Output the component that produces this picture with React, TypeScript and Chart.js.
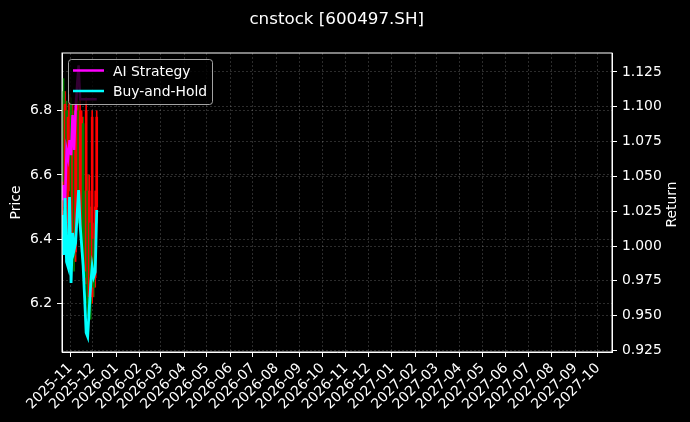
import { useEffect, useRef } from "react";
import { Chart, registerables } from "chart.js";

Chart.register(...registerables);

const title = "cnstock [600497.SH]";

// trading sessions shown (only the first ~6 weeks carry data)
const dates = [
  "2025-10-21", "2025-10-23", "2025-10-25", "2025-10-27", "2025-10-29", "2025-10-31",
  "2025-11-02", "2025-11-04", "2025-11-06", "2025-11-08", "2025-11-10", "2025-11-12",
  "2025-11-14", "2025-11-16", "2025-11-18", "2025-11-20", "2025-11-22", "2025-11-24",
  "2025-11-26", "2025-11-28", "2025-11-30", "2025-12-02", "2025-12-04", "2025-12-06",
];

const opens  = [6.42, 6.86, 6.55, 6.80, 6.45, 6.60, 6.82, 6.42, 6.78, 6.36, 6.50, 6.80, 6.48, 6.40, 6.76, 6.50, 6.30, 6.55, 6.22, 6.45, 6.22, 6.40, 6.28, 6.50];
const highs  = [6.84, 6.90, 6.86, 6.83, 6.80, 6.85, 6.84, 6.82, 6.80, 6.84, 6.86, 6.83, 6.84, 6.80, 6.78, 6.55, 6.84, 6.60, 6.60, 6.50, 6.80, 6.45, 6.55, 6.80];
const lows   = [6.38, 6.55, 6.50, 6.40, 6.42, 6.55, 6.36, 6.38, 6.30, 6.33, 6.46, 6.45, 6.44, 6.36, 6.30, 6.25, 6.26, 6.16, 6.18, 6.15, 6.20, 6.22, 6.25, 6.45];
const closes = [6.80, 6.58, 6.82, 6.45, 6.78, 6.82, 6.40, 6.78, 6.35, 6.80, 6.82, 6.50, 6.80, 6.78, 6.35, 6.28, 6.80, 6.20, 6.55, 6.20, 6.78, 6.25, 6.50, 6.78];

const aiStrategy = [
  1.0329, 1.0438, 1.0280, 1.0689, 1.0631, 1.0760, 1.0653, 1.0940, 1.0689, 1.0975, 1.1155, 1.1298,
  1.1054, 1.1054, 1.1054, 1.1054, 1.1054, 1.1054, 1.1054, 1.1054, 1.1054, 1.1054, 1.1054, 1.1054,
];
const buyAndHold = [
  1.0223, 0.9936, 1.0345, 0.9886, 0.9850, 1.0352, 0.9735, 1.0094, 0.9972, 1.0022, 1.0223, 1.0402,
  1.0151, 1.0007, 0.9857, 0.9628, 0.9377, 0.9349, 0.9541, 0.9721, 0.9850, 0.9779, 0.9814, 1.0259,
];

const monthTicks = [
  "2025-11", "2025-12", "2026-01", "2026-02", "2026-03", "2026-04", "2026-05", "2026-06",
  "2026-07", "2026-08", "2026-09", "2026-10", "2026-11", "2026-12", "2027-01", "2027-02",
  "2027-03", "2027-04", "2027-05", "2027-06", "2027-07", "2027-08", "2027-09", "2027-10",
];
const priceTicks = [6.2, 6.4, 6.6, 6.8];
const returnTicks = [0.925, 0.95, 0.975, 1.0, 1.025, 1.05, 1.075, 1.1, 1.125];

const FONT = "'DejaVu Sans', sans-serif";
const GRID = "rgba(255,255,255,0.22)";

const ORIGIN = Date.UTC(2025, 10, 1);
const toDay = (s: string) => {
  const [y, m, d] = s.split("-").map(Number);
  return (Date.UTC(y, m - 1, d || 1) - ORIGIN) / 864e5;
};
const days = dates.map(toDay);
const monthDays = monthTicks.map(toDay);

const decor = {
  id: "decor",
  afterDatasetsDraw(chart: Chart) {
    const { ctx, chartArea: a } = chart;
    ctx.save();
    // frame
    ctx.strokeStyle = "#fff";
    ctx.lineWidth = 1;
    ctx.strokeRect(a.left, a.top, a.right - a.left, a.bottom - a.top);

    // legend
    ctx.fillStyle = "rgba(0,0,0,0.8)";
    ctx.strokeStyle = "rgba(204,204,204,0.8)";
    ctx.beginPath();
    (ctx as any).roundRect(68.5, 59.5, 144, 45, 3);
    ctx.fill();
    ctx.stroke();
    ctx.lineWidth = 2.5;
    ctx.strokeStyle = "#ff00ff";
    ctx.beginPath(); ctx.moveTo(73, 70.5); ctx.lineTo(104, 70.5); ctx.stroke();
    ctx.strokeStyle = "#00ffff";
    ctx.beginPath(); ctx.moveTo(73, 91); ctx.lineTo(104, 91); ctx.stroke();
    ctx.fillStyle = "#fff";
    ctx.font = `13.9px ${FONT}`;
    ctx.textAlign = "left";
    ctx.textBaseline = "alphabetic";
    ctx.fillText("AI Strategy", 113, 75.5);
    ctx.fillText("Buy-and-Hold", 113, 96);

    // title
    ctx.font = `16.7px ${FONT}`;
    ctx.textAlign = "center";
    ctx.fillText(title, 336.7, 24);

    // axis titles
    ctx.font = `13.9px ${FONT}`;
    ctx.textBaseline = "middle";
    ctx.translate(16.5, 202.5);
    ctx.rotate(-Math.PI / 2);
    ctx.fillText("Price", 0, 0);
    ctx.rotate(Math.PI / 2);
    ctx.translate(-16.5, -202.5);
    ctx.translate(672, 204.5);
    ctx.rotate(-Math.PI / 2);
    ctx.fillText("Return", 0, 0);
    ctx.restore();
  },
};

export default function App() {
  const canvasRef = useRef<HTMLCanvasElement>(null);

  useEffect(() => {
    if (!canvasRef.current) return;
    const up = closes.map((c, i) => c >= opens[i]);
    const candleColors = up.map(u => (u ? "#ff0000" : "#008000"));

    const chart = new Chart(canvasRef.current, {
      type: "bar",
      data: {
        datasets: [
          {
            type: "line",
            label: "Buy-and-Hold",
            data: days.map((x, i) => ({ x, y: buyAndHold[i] })),
            yAxisID: "y1",
            borderColor: "#00ffff",
            borderWidth: 2.8,
            pointRadius: 0,
            tension: 0,
            order: 1,
          },
          {
            type: "line",
            label: "AI Strategy",
            data: days.map((x, i) => ({ x, y: aiStrategy[i] })),
            yAxisID: "y1",
            borderColor: "#ff00ff",
            borderWidth: 2.5,
            pointRadius: 0,
            tension: 0,
            order: 2,
          },
          {
            label: "body",
            data: days.map((x, i) => ({ x, y: [Math.min(opens[i], closes[i]), Math.max(opens[i], closes[i])] })),
            yAxisID: "y",
            backgroundColor: candleColors,
            barThickness: 2,
            grouped: false,
            order: 3,
          } as any,
          {
            label: "wick",
            data: days.map((x, i) => ({ x, y: [lows[i], highs[i]] })),
            yAxisID: "y",
            backgroundColor: candleColors,
            barThickness: 1,
            grouped: false,
            order: 4,
          } as any,
        ],
      },
      options: {
        animation: false,
        responsive: true,
        maintainAspectRatio: false,
        layout: { padding: { top: 53, left: 0, right: 0, bottom: 0 } },
        plugins: { legend: { display: false }, tooltip: { enabled: false }, title: { display: false } },
        scales: {
          x: {
            type: "linear",
            min: -11,
            max: 717.6,
            offset: false,
            afterBuildTicks: (s: any) => { s.ticks = monthDays.map(v => ({ value: v })); },
            afterFit: (s: any) => { s.height = 70; },
            ticks: {
              autoSkip: false,
              minRotation: 45,
              maxRotation: 45,
              color: "#fff",
              padding: 3,
              font: { family: FONT, size: 13.9 },
              callback: (_v: any, i: number) => monthTicks[i],
            },
            grid: { color: GRID, lineWidth: 0.8, tickColor: "#fff", tickLength: 5, tickWidth: 1, offset: false },
            border: { color: "#fff", dash: [2, 2] },
          },
          y: {
            type: "linear",
            position: "left",
            min: 6.048,
            max: 6.98,
            afterBuildTicks: (s: any) => { s.ticks = priceTicks.map(v => ({ value: v })); },
            afterFit: (s: any) => { s.width = 62; },
            ticks: {
              color: "#fff",
              padding: 5,
              font: { family: FONT, size: 13.9 },
              callback: (v: any) => Number(v).toFixed(1),
            },
            grid: { color: GRID, lineWidth: 0.8, tickColor: "#fff", tickLength: 5, tickWidth: 1 },
            border: { color: "#fff", dash: [2, 2] },
          },
          y1: {
            type: "linear",
            position: "right",
            min: 0.9239,
            max: 1.1386,
            afterBuildTicks: (s: any) => { s.ticks = returnTicks.map(v => ({ value: v })); },
            afterFit: (s: any) => { s.width = 78; },
            ticks: {
              color: "#fff",
              padding: 5,
              font: { family: FONT, size: 13.9 },
              callback: (v: any) => Number(v).toFixed(3),
            },
            grid: { color: GRID, lineWidth: 0.8, tickColor: "#fff", tickLength: 5, tickWidth: 1 },
            border: { color: "#fff", dash: [2, 2] },
          },
        },
      },
      plugins: [decor],
    });
    return () => { chart.destroy(); };
  }, []);

  return (
    <div style={{ position: "fixed", left: 0, top: 0, width: 690, height: 422, background: "#000" }}>
      <canvas ref={canvasRef} />
    </div>
  );
}
